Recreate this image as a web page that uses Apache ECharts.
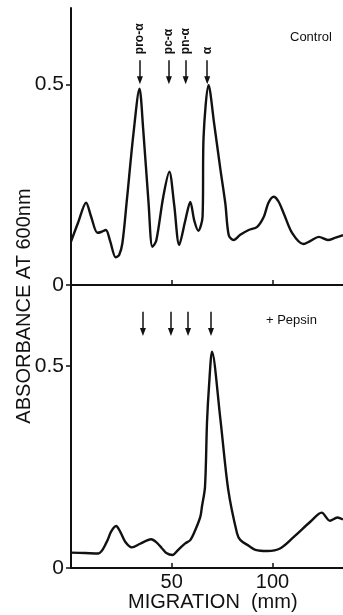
<!DOCTYPE html>
<html>
<head>
<meta charset="utf-8">
<script src="https://cdn.jsdelivr.net/npm/echarts@6/dist/echarts.min.js"></script>
<style>
  html, body { margin: 0; padding: 0; background: #fff; }
  #chart { width: 343px; height: 615px; }
</style>
</head>
<body>
<div id="chart"></div>
<script>
// migration (mm) and absorbance
const controlMm = [0, 3.5, 7.5, 10.0, 13.1, 14.9, 17.3, 19.4, 22.2, 23.9, 25.5, 27.7, 31.0, 34.0, 35.8, 38.5, 40.4, 42.3, 45.8, 48.8, 51.2, 53.7, 56.7, 59.2, 61.2, 63.2, 65.3, 65.8, 68.3, 71.1, 74.1, 76.6, 78.3, 80.7, 84.0, 88.2, 92.4, 95.7, 98.0, 100.6, 103.0, 105.6, 109.8, 115.3, 118.9, 123.0, 127.5, 131.3, 135.0];
const controlAbs = [0.108, 0.155, 0.205, 0.17, 0.130, 0.132, 0.137, 0.11, 0.069, 0.075, 0.104, 0.21, 0.377, 0.489, 0.39, 0.204, 0.095, 0.11, 0.22, 0.282, 0.2, 0.1, 0.16, 0.207, 0.16, 0.135, 0.17, 0.369, 0.498, 0.40, 0.29, 0.203, 0.124, 0.112, 0.125, 0.137, 0.145, 0.170, 0.205, 0.22, 0.208, 0.178, 0.129, 0.102, 0.11, 0.120, 0.112, 0.118, 0.124];

const pepsinMm = [0, 7, 13.6, 17.8, 19.9, 22.4, 24.4, 26.9, 30.2, 34.3, 39.8, 42.3, 45.1, 47.3, 50.4, 53.2, 56.7, 59.2, 61.7, 64.2, 65.0, 66.5, 67.5, 68.5, 70.0, 74.1, 78.0, 82.4, 84.1, 88.2, 91.5, 97.4, 104.0, 110.6, 118.9, 124.4, 128.5, 132.2, 135.0];
const pepsinAbs = [0.038, 0.037, 0.036, 0.065, 0.09, 0.104, 0.09, 0.065, 0.051, 0.06, 0.071, 0.064, 0.049, 0.037, 0.032, 0.045, 0.061, 0.069, 0.094, 0.127, 0.152, 0.20, 0.36, 0.45, 0.535, 0.37, 0.195, 0.086, 0.069, 0.055, 0.045, 0.042, 0.049, 0.077, 0.115, 0.137, 0.117, 0.125, 0.120];

// band markers (arrows) in each panel
const bandNames = ['pro-α', 'pc-α', 'pn-α', 'α'];
const controlArrowMm = [34.2, 48.6, 56.9, 67.6];
const pepsinArrowMm = [35.7, 49.6, 58.1, 69.5];

const yTicks = [0, 0.5];
const xTicks = [50, 100];

const ink = '#111';
const font = 'Liberation Sans';

const chart = echarts.init(document.getElementById('chart'));

function pairs(xs, ys) {
  return xs.map((x, i) => [x, ys[i]]);
}

function arrowLines(xs, y0, y1) {
  return xs.map(x => [{coord: [x, y0]}, {coord: [x, y1]}]);
}

function xAxisOpt(idx, labels) {
  return {
    gridIndex: idx, type: 'value', min: 0, max: 135, interval: 50,
    axisLine: {lineStyle: {color: ink, width: 2}},
    axisTick: {inside: true, length: 5, customValues: xTicks, lineStyle: {color: ink, width: 1.5}},
    axisLabel: {show: labels, customValues: xTicks, color: ink, fontFamily: font, fontSize: 20, margin: 4},
    splitLine: {show: false}
  };
}

function yAxisOpt(idx, max) {
  return {
    gridIndex: idx, type: 'value', min: 0, max: max, interval: 0.5,
    axisLine: {show: true, lineStyle: {color: ink, width: 2}},
    axisTick: {length: 5, customValues: yTicks, lineStyle: {color: ink, width: 1.5}},
    axisLabel: {customValues: yTicks, color: ink, fontFamily: font, fontSize: 21, margin: 7,
      formatter: v => v === 0 ? '0' : String(v)},
    splitLine: {show: false}
  };
}

function lineSeries(idx, data, arrowsAt, y0, y1) {
  return {
    type: 'line', xAxisIndex: idx, yAxisIndex: idx,
    data: data, showSymbol: false, smooth: 0.3,
    lineStyle: {color: ink, width: 2.4},
    silent: true,
    markLine: {
      silent: true, symbol: ['none', 'triangle'], symbolSize: [6, 8],
      lineStyle: {color: ink, width: 1.5, type: 'solid'},
      label: {show: false},
      data: arrowLines(arrowsAt, y0, y1)
    }
  };
}

chart.setOption({
  animation: false,
  grid: [
    {left: 71, top: 8, width: 272, height: 277},
    {left: 71, top: 285, width: 272, height: 283}
  ],
  xAxis: [xAxisOpt(0, false), xAxisOpt(1, true)],
  yAxis: [yAxisOpt(0, 0.69), yAxisOpt(1, 0.70)],
  series: [
    lineSeries(0, pairs(controlMm, controlAbs), controlArrowMm, 0.56, 0.51),
    lineSeries(1, pairs(pepsinMm, pepsinAbs), pepsinArrowMm, 0.634, 0.584)
  ]
});

// texts placed from the axes
const bandText = bandNames.map((name, i) => {
  const p = chart.convertToPixel({gridIndex: 0}, [controlArrowMm[i], 0.575]);
  return {
    type: 'text', x: p[0], y: p[1], rotation: Math.PI / 2,
    style: {text: name, font: 'bold 12px ' + font, fill: ink, align: 'left', verticalAlign: 'middle'}
  };
});

chart.setOption({
  graphic: bandText.concat([
    {type: 'text', left: 290, top: 31, style: {text: 'Control', font: '13px ' + font, fill: ink}},
    {type: 'text', left: 266, top: 314, style: {text: '+ Pepsin', font: '13px ' + font, fill: ink}},
    {type: 'text', left: 128, top: 592, style: {text: 'MIGRATION  (mm)', font: '20px ' + font, fill: ink}},
    {type: 'text', x: 24, y: 306, rotation: Math.PI / 2,
      style: {text: 'ABSORBANCE AT 600nm', font: '20px ' + font, fill: ink, align: 'center', verticalAlign: 'middle'}}
  ])
});
</script>
</body>
</html>
